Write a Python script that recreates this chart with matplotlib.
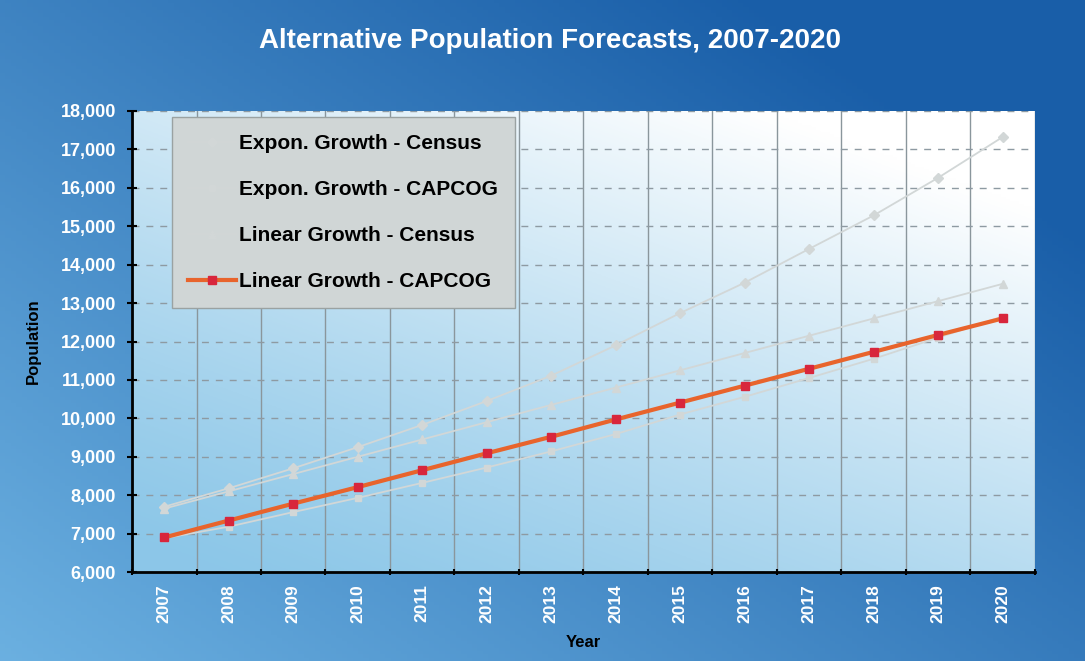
import numpy as np
import matplotlib
matplotlib.use("Agg")
import matplotlib.pyplot as plt
from matplotlib.ticker import FuncFormatter, MultipleLocator

plt.rcParams['font.family'] = ['Liberation Sans', 'DejaVu Sans']

# ------------------------------
# Data
# ------------------------------
years = [2007, 2008, 2009, 2010, 2011, 2012, 2013,
         2014, 2015, 2016, 2017, 2018, 2019, 2020]

expon_census = [7700, 8180, 8700, 9250, 9830, 10450, 11110,
                11900, 12740, 13530, 14410, 15280, 16260, 17320]
expon_capcog = [6880, 7180, 7560, 7930, 8320, 8720, 9140,
                9590, 10100, 10560, 11050, 11550, 12100, 12650]
linear_census = [7650, 8100, 8550, 9000, 9450, 9900, 10350,
                 10800, 11250, 11700, 12150, 12600, 13050, 13500]
linear_capcog = [6900, 7340, 7780, 8210, 8650, 9090, 9520,
                 9970, 10410, 10850, 11290, 11730, 12170, 12600]

labels = ["Expon. Growth - Census", "Expon. Growth - CAPCOG",
          "Linear Growth - Census", "Linear Growth - CAPCOG"]

# ------------------------------
# Figure with blue gradient background
# ------------------------------
fig = plt.figure(figsize=(10.85, 6.61), dpi=100)

bg = fig.add_axes([0, 0, 1, 1], zorder=-10)
gx, gy = np.meshgrid(np.linspace(0, 1, 200), np.linspace(0, 1, 200))
t = np.clip(0.65 * gx + 0.55 * gy, 0, 1)  # 0 at bottom-left, 1 at top-right
light_blue = np.array([0.42, 0.69, 0.88])
dark_blue = np.array([0.10, 0.37, 0.66])
img = light_blue * (1 - t[..., None]) + dark_blue * t[..., None]
bg.imshow(img, extent=[0, 1, 0, 1], origin='lower', aspect='auto')
bg.axis('off')

ax = fig.add_axes([0.1217, 0.1346, 0.832, 0.6975])

# plot area gradient: light blue bottom-left -> white top-right
t2 = np.clip(0.5 * gx + 0.7 * gy - 0.05, 0, 1) ** 1.2
pa_blue = np.array([0.55, 0.78, 0.91])
white = np.array([1.0, 1.0, 1.0])
img2 = pa_blue * (1 - t2[..., None]) + white * t2[..., None]
ax.imshow(img2, extent=[2006.5, 2020.5, 6000, 18000], origin='lower',
          aspect='auto', zorder=0)

# ------------------------------
# Series
# ------------------------------
pale = '#d2d7d7'
ax.plot(years, expon_census, color=pale, lw=1.3, marker='D', ms=5,
        label=labels[0], zorder=3)
ax.plot(years, expon_capcog, color=pale, lw=1.3, marker='s', ms=5,
        label=labels[1], zorder=3)
ax.plot(years, linear_census, color=pale, lw=1.3, marker='^', ms=6,
        label=labels[2], zorder=3)
ax.plot(years, linear_capcog, color='#e8642c', lw=3, marker='s', ms=6,
        mfc='#d8263c', mec='#d8263c', label=labels[3], zorder=4)

# ------------------------------
# Axes styling
# ------------------------------
ax.set_xlim(2006.5, 2020.5)
ax.set_ylim(6000, 18000)
ax.set_xticks(years)
ax.set_xticks(np.arange(2006.5, 2021, 1), minor=True)
ax.yaxis.set_major_locator(MultipleLocator(1000))
ax.yaxis.set_major_formatter(FuncFormatter(lambda v, p: f"{int(v):,}"))

ax.tick_params(axis='x', which='major', length=0, pad=9, labelrotation=90,
               labelsize=12.5, labelcolor='white')
ax.tick_params(axis='x', which='minor', length=5, width=1.5, direction='inout',
               color='black')
ax.tick_params(axis='y', which='major', length=7, width=1.5, direction='inout',
               labelsize=13, labelcolor='white', pad=8)
for lab in ax.get_xticklabels() + ax.get_yticklabels():
    lab.set_fontweight('bold')

ax.grid(which='minor', axis='x', color='#8a969c', lw=1, ls='-', zorder=1)
ax.grid(which='major', axis='y', color='#8e9aa2', lw=1, ls=(0, (5, 5)), zorder=1)
ax.grid(which='major', axis='x', visible=False)
ax.set_axisbelow(False)

for side in ['top', 'right']:
    ax.spines[side].set_visible(False)
for side in ['left', 'bottom']:
    ax.spines[side].set_linewidth(2)
    ax.spines[side].set_color('black')
    ax.spines[side].set_zorder(5)

ax.set_xlabel("Year", fontsize=12, fontweight='bold', color='black', labelpad=8)
ax.set_ylabel("Population", fontsize=12, fontweight='bold', color='black',
              labelpad=14)

fig.suptitle("Alternative Population Forecasts, 2007-2020", x=0.507, y=0.957,
             fontsize=20, fontweight='bold', color='white')

leg = ax.legend(loc='upper left', bbox_to_anchor=(0.044, 0.986),
                prop={'size': 15, 'weight': 'bold'}, frameon=True,
                fancybox=False, facecolor='#d0d6d6', edgecolor='#9aa2a2',
                framealpha=1, labelspacing=1.3, handlelength=2.3,
                handletextpad=0.15, borderpad=0.8, borderaxespad=0)
leg.set_zorder(6)

plt.savefig("out.png", dpi=100)
